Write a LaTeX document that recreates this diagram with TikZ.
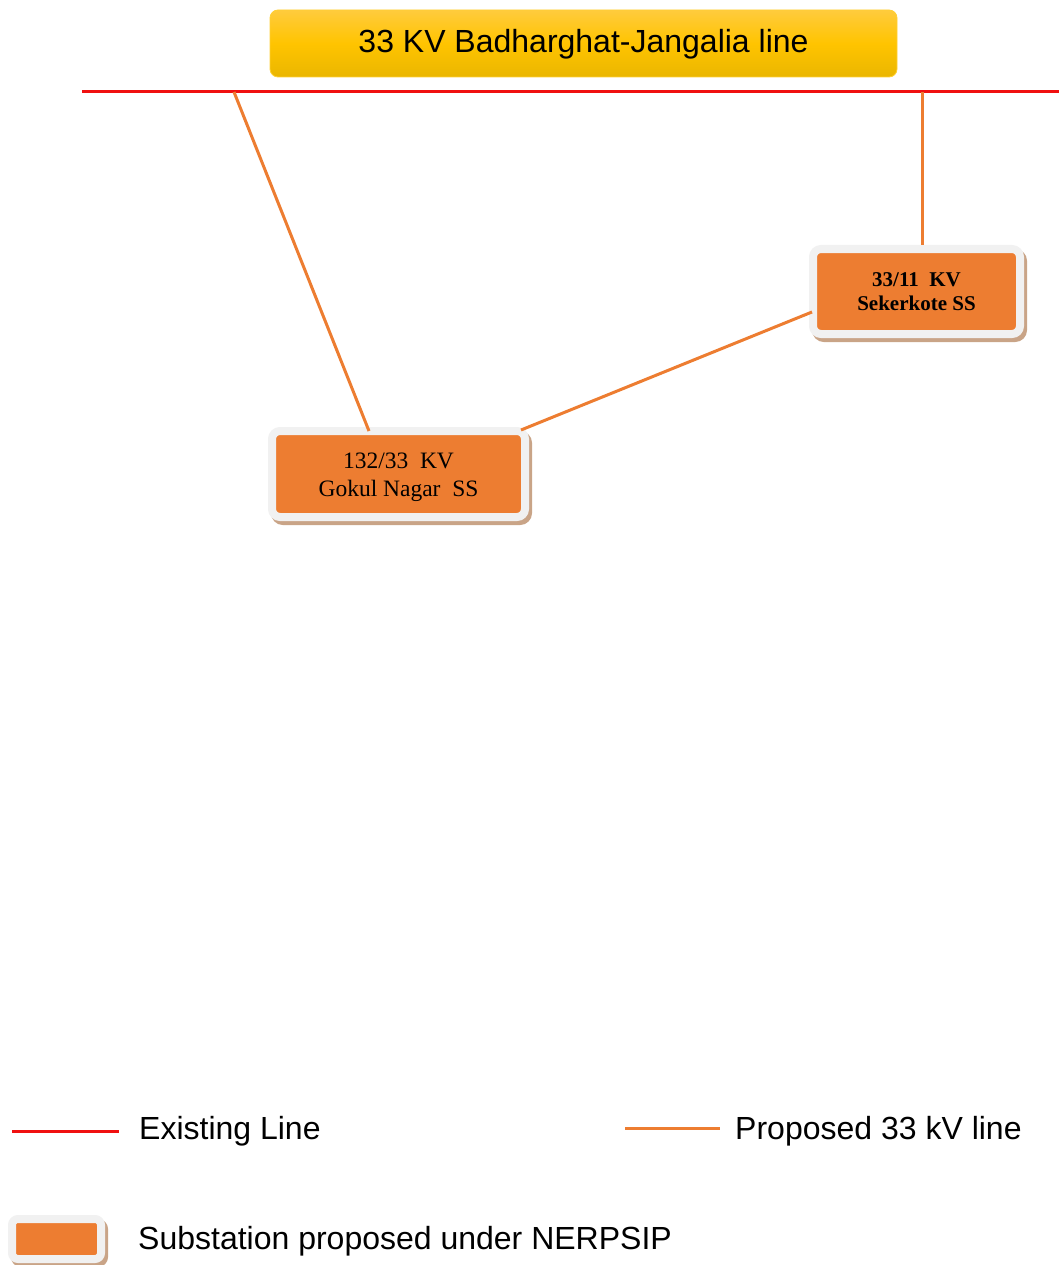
\documentclass[tikz,border=0pt]{standalone}
\usepackage{fontspec}
\setmainfont{Liberation Serif}
\newfontfamily\arialf{Liberation Sans}
\usetikzlibrary{shadows}
\definecolor{redline}{HTML}{F01010}
\definecolor{orangeline}{HTML}{ED7D31}
\definecolor{ssfill}{HTML}{ED7D31}
\definecolor{frameC}{HTML}{F1F1F1}
\definecolor{shadowC}{HTML}{C9A487}
\definecolor{ytop}{HTML}{FFCB3D}
\definecolor{ymid}{HTML}{FFC400}
\definecolor{ybot}{HTML}{EAB600}
\tikzset{
  existing/.style={draw=redline, line width=3pt},
  proposed/.style={draw=orangeline, line width=3pt},
  substation/.style={fill=ssfill, draw=frameC, line width=8pt, rounded corners=8pt,
     align=center, inner sep=0pt,
     drop shadow={shadow xshift=3pt, shadow yshift=-4pt, fill=shadowC, draw=shadowC, line width=8pt, opacity=1}},
  titlebox/.style={rounded corners=8pt, top color=ytop, bottom color=ybot, middle color=ymid,
     draw=ymid!80!white, line width=0.8pt, minimum width=627pt, minimum height=67pt, inner sep=0pt,
     font=\arialf\fontsize{32}{38}\selectfont},
  legendtext/.style={anchor=west, inner sep=0pt, font=\arialf\fontsize{32}{38}\selectfont}
}
\begin{document}
\begin{tikzpicture}[x=1pt, y=-1pt]
\useasboundingbox (0,0) rectangle (1059,1265);
% title
\node[titlebox] (title) at (583.5,43.5) {};
\node[inner sep=0pt, font=\arialf\fontsize{32}{38}\selectfont] (titletext) at (583.5,44) {33 KV Badharghat-Jangalia line};
% bus
\coordinate (busL) at (82,92);
\coordinate (busR) at (1059,92);
\draw[existing] (busL) -- (busR);
\coordinate (tapA) at (234,92);
\coordinate (tapB) at (922,92);
% substations
\node[substation, minimum width=253pt, minimum height=86pt] (gokul) at (398.5,474) {};
\node[inner sep=0pt, align=center, font=\fontsize{23.5}{28}\selectfont] (gokultext) at (398.5,477)
      {132/33\ \ KV\\Gokul Nagar\ \ SS};
\node[substation, minimum width=207pt, minimum height=85pt,
      font=\bfseries\fontsize{21}{24}\selectfont] (sek) at (916.5,291.5)
      {33/11\ \ KV\\Sekerkote SS};
% proposed lines
\coordinate (gTop) at (369,431);
\coordinate (gNE) at (521,430);
\coordinate (sW) at (812,312);
\coordinate (sTop) at (922,245);
\draw[proposed] (tapA) -- (gTop);
\draw[proposed] (tapB) -- (sTop);
\draw[proposed] (gNE) -- (sW);
% legend
\coordinate (l1a) at (12,1131);
\coordinate (l1b) at (119,1131);
\draw[existing] (l1a) -- (l1b);
\node[legendtext] (lt1) at (139,1131) {Existing Line};
\coordinate (l2a) at (625,1128);
\coordinate (l2b) at (720,1128);
\draw[proposed] (l2a) -- (l2b);
\node[legendtext] (lt2) at (735,1131) {Proposed 33 kV line};
\node[substation, minimum width=89pt, minimum height=40pt, rounded corners=6pt] (lbox) at (56.5,1239) {};
\node[legendtext] (lt3) at (138,1241) {Substation proposed under NERPSIP};
\end{tikzpicture}
\end{document}
